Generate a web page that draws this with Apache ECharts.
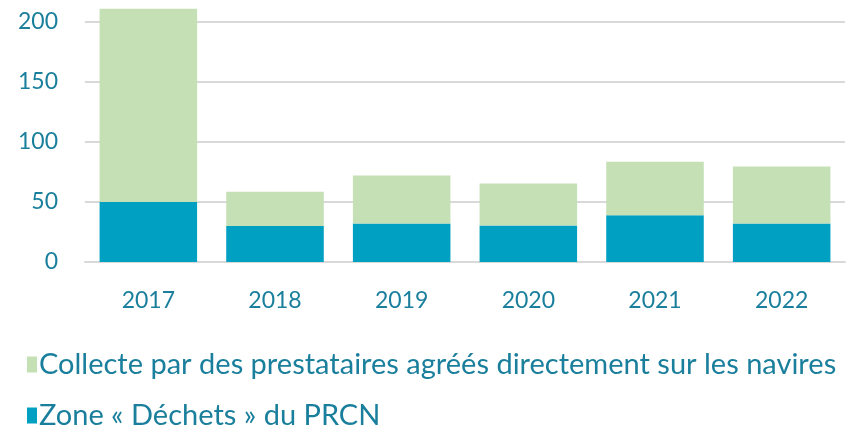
<!DOCTYPE html>
<html>
<head>
<meta charset="utf-8">
<script src="https://cdn.jsdelivr.net/npm/echarts@6/dist/echarts.min.js"></script>
<style>
  html, body { margin: 0; padding: 0; background: #fff; }
  #chart { width: 855px; height: 428px; }
</style>
</head>
<body>
<div id="chart"></div>
<script>
const years = ['2017', '2018', '2019', '2020', '2021', '2022'];
const zoneDechets = [50, 30, 32, 30.5, 39, 32];
const collecteNavires = [161, 28.5, 40, 35, 44.5, 47.5];
const yTicks = [0, 50, 100, 150, 200];
const nameZone = 'Zone « Déchets » du PRCN';
const nameCollecte = 'Collecte par des prestataires agréés directement sur les navires';

const textColor = '#1a7f9c';

function legendAt(name, top) {
	return {
		orient: 'vertical',
		left: 22,
		top: top,
		itemWidth: 10,
		itemHeight: 16,
		icon: 'rect',
		data: [name],
		textStyle: { color: textColor, fontSize: 29, fontFamily: 'Lato', padding: [0, 0, 0, -3] }
	};
}

const chart = echarts.init(document.getElementById('chart'));
const option = {
	backgroundColor: '#ffffff',
	animation: false,
	textStyle: { fontFamily: 'Lato' },
	grid: { left: 85, right: 10, top: 22, bottom: 166 },
	legend: [legendAt(nameCollecte, 345), legendAt(nameZone, 396)],
	xAxis: {
		type: 'category',
		data: years,
		axisLine: { lineStyle: { color: '#d9d9d9', width: 2 } },
		axisTick: { show: false },
		axisLabel: { color: textColor, fontSize: 23, margin: 27 }
	},
	yAxis: {
		type: 'value',
		min: yTicks[0],
		max: yTicks[yTicks.length - 1],
		interval: 50,
		axisLine: { show: false },
		axisTick: { show: false },
		splitLine: { lineStyle: { color: '#d9d9d9', width: 2 } },
		axisLabel: { color: textColor, fontSize: 23, margin: 27 }
	},
	series: [
		{
			name: nameZone,
			type: 'bar',
			stack: 'total',
			barWidth: '77%',
			clip: false,
			data: zoneDechets,
			itemStyle: { color: '#00a0c2' }
		},
		{
			name: nameCollecte,
			type: 'bar',
			stack: 'total',
			barWidth: '77%',
			clip: false,
			data: collecteNavires,
			itemStyle: { color: '#c5e0b4' }
		}
	]
};
chart.setOption(option);
</script>
</body>
</html>
